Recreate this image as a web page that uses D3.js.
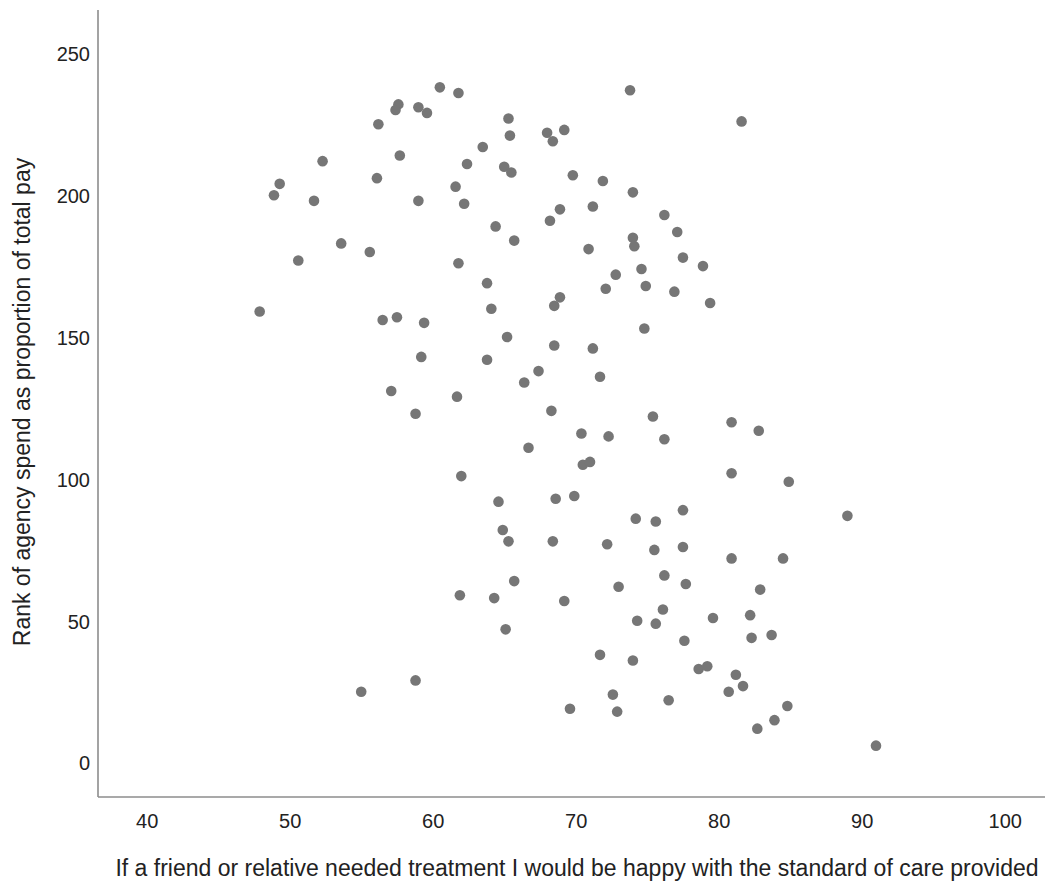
<html lang="en">
  <head>
    <meta charset="utf-8">
    <script src="https://d3js.org/d3.v7.min.js"></script>
    <style type="text/css">
body {
  margin: 0;
  background: #fff;
  font-family: "Liberation Sans", Arial, Sans-serif;
}
    </style>
  </head>
  <body>
    <div id="chart"></div>

    <script type="text/javascript">
// percentage happy with standard of care (x) and rank of agency spend (y)
const happy = [
  47.9, 48.9, 49.3, 50.6, 51.7, 52.3, 53.6, 55.0, 55.6, 56.1,
  56.2, 56.5, 57.1, 57.6, 57.4, 57.5, 57.7, 58.8, 58.8, 59.0,
  59.0, 59.2, 59.4, 59.6, 60.5, 61.6, 61.7, 61.8, 61.8, 61.9,
  62.0, 62.2, 62.4, 63.5, 63.8, 63.8, 64.1, 64.3, 64.4, 64.6,
  64.9, 65.0, 65.2, 65.3, 65.3, 65.4, 65.1, 65.5, 65.7, 65.7,
  66.4, 66.7, 67.4, 68.0, 68.2, 68.4, 68.3, 68.4, 68.5, 68.5,
  68.6, 68.9, 68.9, 69.2, 69.2, 69.6, 69.8, 69.9, 70.4, 70.5,
  70.9, 71.0, 71.2, 71.2, 71.7, 71.7, 71.9, 72.1, 72.2, 72.3,
  72.6, 72.8, 73.0, 72.9, 73.8, 74.0, 74.0, 74.0, 74.2, 74.1,
  74.3, 74.6, 74.8, 74.9, 75.4, 75.5, 75.6, 75.6, 76.2, 76.2,
  76.2, 76.5, 76.9, 77.1, 77.5, 77.5, 77.5, 77.7, 77.6, 78.6,
  78.9, 79.2, 79.4, 79.6, 80.7, 80.9, 80.9, 80.9, 81.2, 81.6,
  81.7, 82.2, 82.3, 82.7, 82.8, 82.9, 83.7, 83.9, 84.5, 84.8,
  84.9, 89.0, 91.0, 76.1
];
const rank = [
  159, 200, 204, 177, 198, 212, 183, 25, 180, 206,
  225, 156, 131, 232, 230, 157, 214, 123, 29, 231,
  198, 143, 155, 229, 238, 203, 129, 236, 176, 59,
  101, 197, 211, 217, 169, 142, 160, 58, 189, 92,
  82, 210, 150, 227, 78, 221, 47, 208, 184, 64,
  134, 111, 138, 222, 191, 78, 124, 219, 161, 147,
  93, 164, 195, 57, 223, 19, 207, 94, 116, 105,
  181, 106, 196, 146, 136, 38, 205, 167, 77, 115,
  24, 172, 62, 18, 237, 36, 201, 185, 86, 182,
  50, 174, 153, 168, 122, 75, 85, 49, 193, 66,
  114, 22, 166, 187, 178, 89, 76, 63, 43, 33,
  175, 34, 162, 51, 25, 120, 102, 72, 31, 226,
  27, 52, 44, 12, 117, 61, 45, 15, 72, 20,
  99, 87, 6, 54
];
const xTicks = [40, 50, 60, 70, 80, 90, 100];
const yTicks = [0, 50, 100, 150, 200, 250];

const xTitle = "If a friend or relative needed treatment I would be happy with the standard of care provided";
const yTitle = "Rank of agency spend as proportion of total pay";

const width = 1045;
const height = 882;
const frame = {left: 98, right: 1045, top: 10, bottom: 797};

let x = d3.scaleLinear()
  .domain([40, 100])
  .range([146.7, 1004.7]);

let y = d3.scaleLinear()
  .domain([0, 250])
  .range([762.7, 53.3]);

let svg = d3.create("svg")
  .attr("width", width)
  .attr("height", height)
  .attr("viewBox", [0, 0, width, height]);

let xAxis = g => g
  .attr("transform", `translate(0,${frame.bottom})`)
  .call(d3.axisBottom(x).tickValues(xTicks).tickSize(0).tickPadding(0))
  .call(g => g.select(".domain").remove())
  .call(g => g.selectAll("text")
    .attr("y", 31)
    .attr("dy", 0)
    .attr("fill", "#222")
    .attr("font-size", 20)
    .attr("font-family", "Liberation Sans, Arial, sans-serif"));

let yAxis = g => g
  .attr("transform", `translate(${frame.left},0)`)
  .call(d3.axisLeft(y).tickValues(yTicks).tickSize(0).tickPadding(8))
  .call(g => g.select(".domain").remove())
  .call(g => g.selectAll("text")
    .attr("dy", "0.36em")
    .attr("fill", "#222")
    .attr("font-size", 20)
    .attr("font-family", "Liberation Sans, Arial, sans-serif"));

svg.append("g").call(xAxis);
svg.append("g").call(yAxis);

// frame lines
svg.append("line")
  .attr("x1", frame.left).attr("x2", frame.left)
  .attr("y1", frame.top).attr("y2", frame.bottom)
  .attr("stroke", "#8c8c8c")
  .attr("stroke-width", 1.6);
svg.append("line")
  .attr("x1", frame.left).attr("x2", frame.right)
  .attr("y1", frame.bottom).attr("y2", frame.bottom)
  .attr("stroke", "#8c8c8c")
  .attr("stroke-width", 1.6);

svg.append("g")
  .selectAll("circle")
  .data(happy.map((v, i) => ({x: v, y: rank[i]})))
  .join("circle")
    .attr("cx", d => x(d.x))
    .attr("cy", d => y(d.y))
    .attr("r", 5.3)
    .attr("fill", "#767676");

svg.append("text")
  .attr("x", 577)
  .attr("y", 876)
  .attr("text-anchor", "middle")
  .attr("font-size", 23)
  .attr("fill", "#222")
  .text(xTitle);

svg.append("text")
  .attr("transform", "translate(30,402) rotate(-90)")
  .attr("text-anchor", "middle")
  .attr("font-size", 23)
  .attr("fill", "#222")
  .text(yTitle);

d3.select("#chart").append(() => svg.node());
    </script>
  </body>
</html>
